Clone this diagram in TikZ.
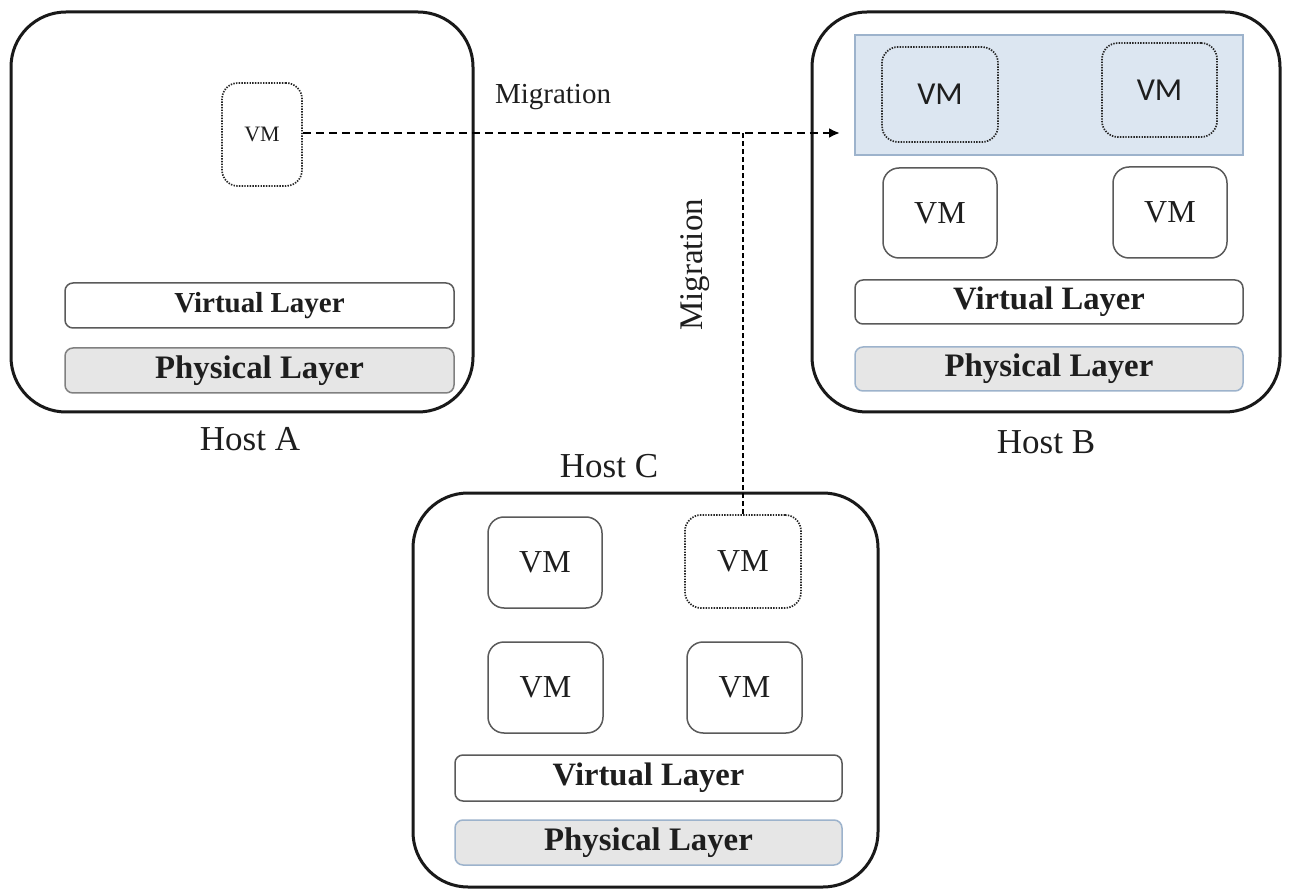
\documentclass[tikz,border=0pt]{standalone}
\usepackage{fontspec}
\setmainfont{Liberation Serif}
\newfontfamily\calfont{Carlito}
\usetikzlibrary{arrows.meta}
\definecolor{boxgray}{HTML}{5A5A5A}
\definecolor{physfill}{HTML}{E6E6E6}
\definecolor{bluefill}{HTML}{DCE6F1}
\definecolor{blueline}{HTML}{9DB3CC}
\definecolor{txt}{HTML}{1E1E1E}
\tikzset{
  host/.style={draw=black!90, line width=3pt, rounded corners=55pt, inner sep=0pt},
  vmbox/.style={draw=boxgray, line width=1.5pt, rounded corners=16pt, fill=white, inner sep=0pt, text=txt, font=\fontsize{32}{34}\selectfont},
  vmdot/.style={draw=black!85, line width=1.7pt, dash pattern=on 1.4pt off 1.3pt, rounded corners=16pt, inner sep=0pt, text=txt},
  vlayer/.style={draw=boxgray, line width=1.5pt, rounded corners=8pt, fill=white, inner sep=0pt, text=txt, font=\fontsize{32.6}{34}\selectfont\bfseries},
  player/.style={draw=gray, line width=1.5pt, rounded corners=8pt, fill=physfill, inner sep=0pt, text=txt, font=\fontsize{32.8}{34}\selectfont\bfseries},
  hostlabel/.style={inner sep=0pt, text=txt, font=\fontsize{35}{38}\selectfont},
  miglabel/.style={inner sep=0pt, text=txt},
  migmain/.style={line width=2.8pt, dash pattern=on 8pt off 5pt},
  migside/.style={line width=1.7pt, dash pattern=on 5pt off 3pt},
}
\begin{document}
\begin{tikzpicture}[x=1pt, y=-1pt]
\useasboundingbox (0,0) rectangle (1291,890);
\fill[white] (0,0) rectangle (1291,890);

% Host A
\node[host, minimum width=462pt, minimum height=400pt] (hostA) at (242,212) {};
\node[vmdot, minimum width=80pt, minimum height=103pt, font=\fontsize{22}{24}\selectfont] (vmA) at (262,134.5) {VM};
\node[vlayer, minimum width=389pt, minimum height=45pt, font=\fontsize{29}{31}\selectfont\bfseries] (vlA) at (259.5,305.5) {Virtual Layer};
\node[player, minimum width=389pt, minimum height=45pt] (plA) at (259.5,370.5) {Physical Layer};
\node[hostlabel] (labA) at (250,439) {Host A};

% Host B
\node[host, minimum width=468pt, minimum height=400pt] (hostB) at (1046,212) {};
\node[draw=blueline, line width=1.4pt, fill=bluefill, minimum width=388pt, minimum height=120pt, inner sep=0pt] (blue) at (1049,95) {};
\node[vmdot, minimum width=116pt, minimum height=95pt, font=\calfont\fontsize{32}{34}\selectfont] (vmB1) at (940,94.5) {VM};
\node[vmdot, minimum width=115pt, minimum height=94pt, font=\calfont\fontsize{32}{34}\selectfont] (vmB2) at (1159.5,90) {VM};
\node[vmbox, minimum width=114pt, minimum height=90pt] (vmB3) at (940,213) {VM};
\node[vmbox, minimum width=114pt, minimum height=91pt] (vmB4) at (1170,212.5) {VM};
\node[vlayer, minimum width=388pt, minimum height=44pt] (vlB) at (1049,302) {Virtual Layer};
\node[player, draw=blueline, minimum width=388pt, minimum height=44pt] (plB) at (1049,369) {Physical Layer};
\node[hostlabel] (labB) at (1046,442) {Host B};

% Host C
\node[host, minimum width=465pt, minimum height=394pt] (hostC) at (645.5,690) {};
\node[vmbox, minimum width=114pt, minimum height=91pt] (vmC1) at (545,562.5) {VM};
\node[vmdot, minimum width=116pt, minimum height=93pt, font=\fontsize{32}{34}\selectfont] (vmC2) at (743,561.5) {VM};
\node[vmbox, minimum width=115pt, minimum height=91pt] (vmC3) at (545.5,687.5) {VM};
\node[vmbox, minimum width=115pt, minimum height=91pt] (vmC4) at (744.5,687.5) {VM};
\node[vlayer, minimum width=387pt, minimum height=46pt] (vlC) at (648.5,778) {Virtual Layer};
\node[player, draw=blueline, minimum width=387pt, minimum height=45pt] (plC) at (648.5,842.5) {Physical Layer};
\node[hostlabel] (labC) at (609,466) {Host C};

% Migration connectors
\coordinate (arrowend) at (840,133);
\draw[migmain, -{Latex[length=11pt,width=10pt]}] (vmA.east |- arrowend) -- (arrowend);
\draw[migside] (vmC2.north) -- (vmC2.north |- arrowend);
\node[miglabel, font=\fontsize{29}{31}\selectfont] (mig1) at (553,97) {Migration};
\node[miglabel, font=\fontsize{33}{35}\selectfont, rotate=90] (mig2) at (695,265) {Migration};
\end{tikzpicture}
\end{document}
